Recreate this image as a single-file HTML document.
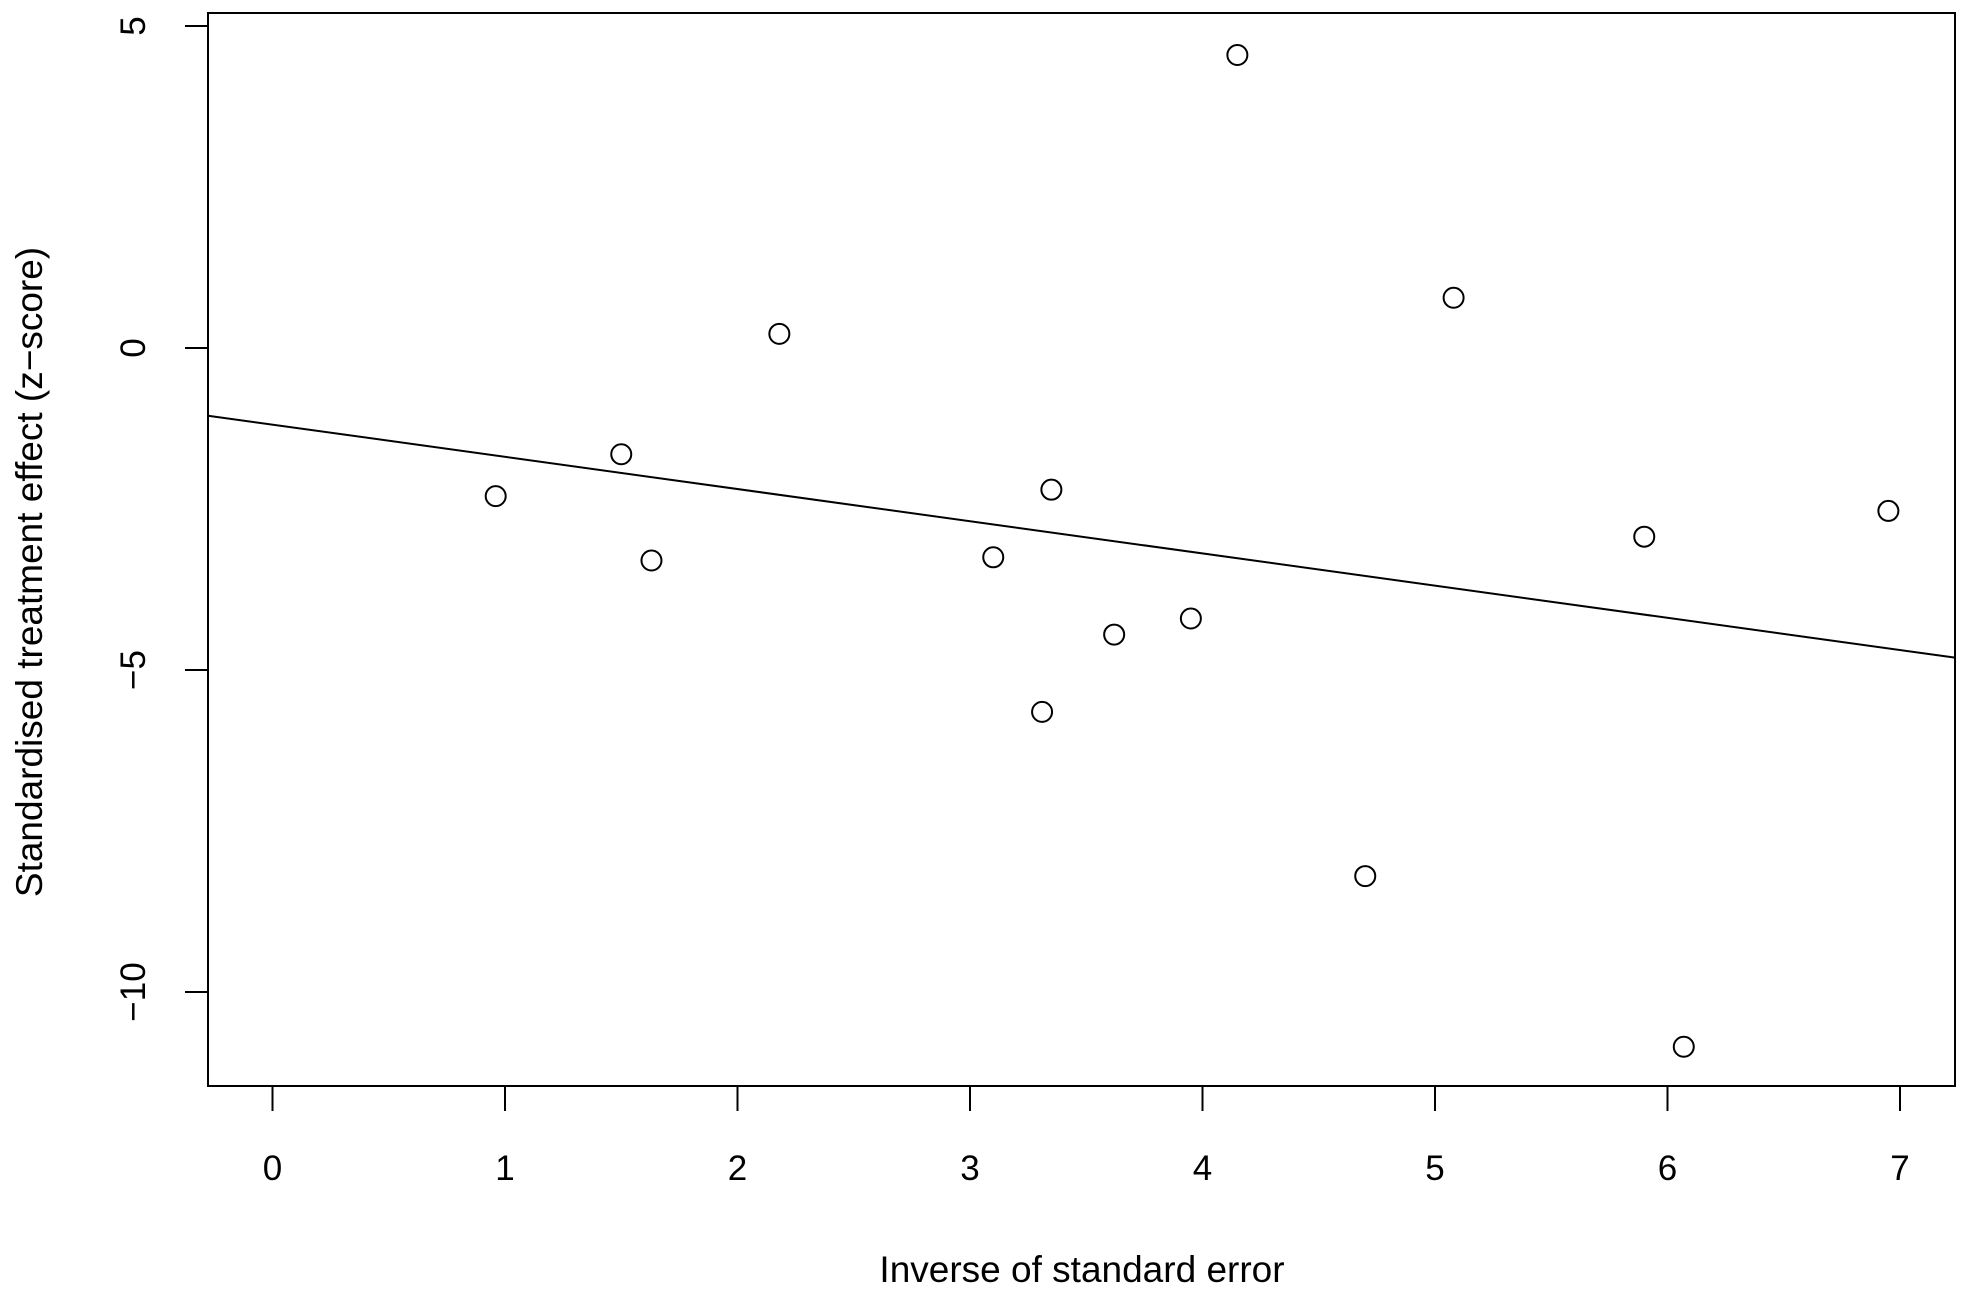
<!DOCTYPE html>
<html><head><meta charset="utf-8"><style>
html,body{margin:0;padding:0;background:#fff;}
svg{display:block;font-family:"Liberation Sans",sans-serif;}
</style></head><body>
<svg id="chart" width="1965" height="1295" viewBox="0 0 1965 1295">
<rect x="208" y="13" width="1747" height="1073" fill="none" stroke="#000" stroke-width="2"/>
<g id="xaxis"></g>
<g id="yaxis"></g>
<g id="marks"></g>
<text x="1082" y="1282" font-size="37" text-anchor="middle" fill="#000">Inverse of standard error</text>
<text transform="translate(42,572) rotate(-90)" font-size="37" text-anchor="middle" fill="#000">Standardised treatment effect (z−score)</text>
</svg>
<script>
const xVals = [0.96, 1.5, 1.63, 2.18, 3.1, 3.35, 3.31, 3.62, 3.95, 4.15, 4.7, 5.08, 5.9, 6.07, 6.95];
const yVals = [-2.3, -1.65, -3.3, 0.22, -3.25, -2.2, -5.65, -4.45, -4.2, 4.55, -8.2, 0.78, -2.93, -10.85, -2.53];
const xTicks = [0, 1, 2, 3, 4, 5, 6, 7];
const yTicks = [5, 0, -5, -10];
const yTickLabels = ["5", "0", "\u22125", "\u221210"];
const lineIntercept = -1.19;
const lineSlope = -0.5;

const NS = "http://www.w3.org/2000/svg";
const L = 208, R = 1955, T = 13, B = 1086;
const sx = v => 272.5 + v * 232.5;
const sy = v => 348 - v * 64.4;
const xMin = (L - 272.5) / 232.5, xMax = (R - 272.5) / 232.5;
function mk(tag, attrs, parent){const e=document.createElementNS(NS,tag);for(const k in attrs)e.setAttribute(k,attrs[k]);parent.appendChild(e);return e;}
const xa=document.getElementById('xaxis'), ya=document.getElementById('yaxis'), mg=document.getElementById('marks');
xTicks.forEach(t=>{
  const l=mk('line',{x1:sx(t),x2:sx(t),y1:B,y2:B+25,stroke:'#000','stroke-width':2},xa);
  
  
  const tx=mk('text',{x:sx(t),y:1180,'font-size':35,'text-anchor':'middle'},xa);
  tx.textContent=String(t);
  
  
});
yTicks.forEach((t,i)=>{
  const l=mk('line',{x1:L-23,x2:L,y1:sy(t),y2:sy(t),stroke:'#000','stroke-width':2},ya);
  
  
  const tx=mk('text',{transform:`translate(145,${sy(t)}) rotate(-90)`,'font-size':35,'text-anchor':'middle'},ya);
  tx.textContent=yTickLabels[i];
  
  
});
const rl=mk('line',{x1:L,y1:sy(lineIntercept+lineSlope*xMin),x2:R,y2:sy(lineIntercept+lineSlope*xMax),stroke:'#000','stroke-width':2},mg);


xVals.forEach((x,i)=>{
  const c=mk('circle',{cx:sx(x),cy:sy(yVals[i]),r:10,fill:'none',stroke:'#000','stroke-width':2},mg);
  
  
});
</script>
</body></html>
